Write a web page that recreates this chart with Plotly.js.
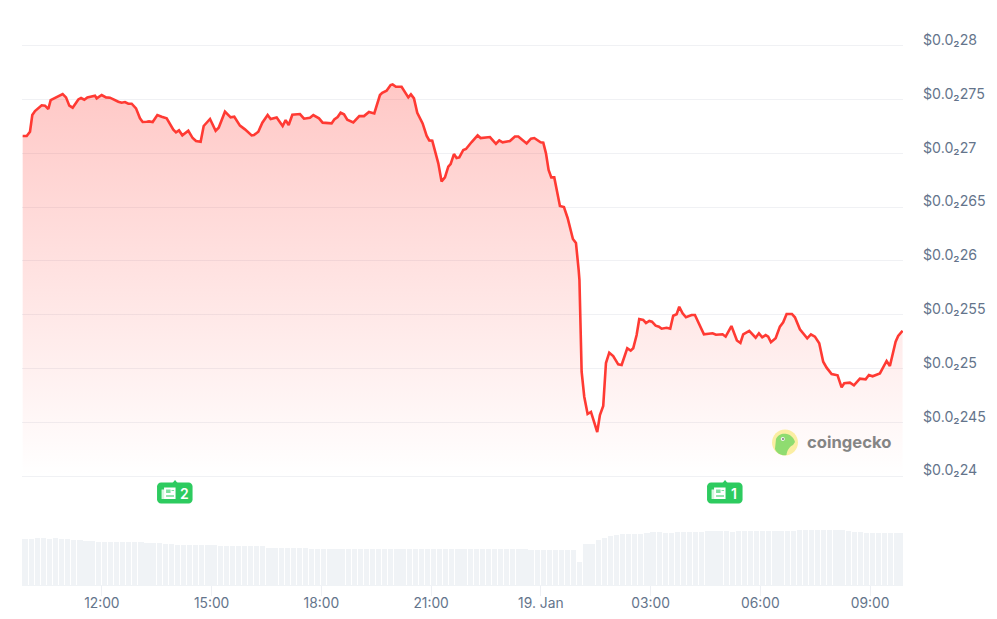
<!DOCTYPE html>
<html>
<head>
<meta charset="utf-8">
<script src="https://cdn.plot.ly/plotly-3.0.1.min.js"></script>
<style>html,body{margin:0;padding:0;background:#fff}#c{width:997px;height:619px}</style>
</head>
<body>
<div id="c"></div>
<script>
// minutes after 18 Jan 09:49
const minutes = [1.1,7.7,13.1,16.9,21.3,32.3,37.7,43.2,47,54.1,62.3,66.7,72.2,77.6,83.1,92.4,96.8,102.2,107.2,119.7,122.5,130.7,137.8,144.3,158,163.5,168.9,174.4,179.9,187,193.5,197.9,204.5,208.3,214.3,222,229.1,237.3,248.2,252.6,257.5,263,272.8,279.9,285.4,293,298,308.4,317.6,322.6,332.9,342.2,348.2,357.5,365.7,376.7,380.5,387.6,394.2,402.9,407.8,417.7,427.5,432.4,437.4,443.4,
455.9,462.5,472.3,477.8,487.1,493.1,507.8,512.2,517.7,522.6,528.1,533.5,543.4,553.2,560.9,569.1,577.8,587.1,590.9,598,604.6,607.9,613.3,622.6,633.6,637.9,642.9,648.3,657.1,663.6,668,672.9,682.8,688.2,693.7,699.2,703,708.5,712.8,717.2,723.8,728.2,737.5,747.3,752.2,767.5,777.4,782.8,788.3,800.3,808.5,814,827.7,834.8,840.2,850.6,855,859.4,863.7,868.1,873,880.2,
882.3,888.9,894.9,903.6,908.6,913,914.3,917.9,922.2,927.7,933.2,943.5,947.9,953.3,957.8,963.2,969.7,977.9,983.5,992.7,998.3,1002.5,1008.1,1012.4,1018.9,1023.4,1028.8,1033.2,1039.3,1044.7,1049.1,1057.3,1063.2,1068.1,1073.7,1078,1083.5,1089,1098.3,1103.7,1109.1,1118.5,1132.7,1138.2,1149.1,1154.1,1163.6,1172.6,1178.3,1182.9,1192.8,1203.3,1208.7,1214.1,1219.7,1223.9,1228.4,1236.1,1243.1,1248.5,1254.1,1262.8,1267.7,1275.9,1287.9,1294,1300.5,1307.6,1314.1,1319.7,1327.9,1337.7,1344.3,1348.6,1357.9,1364.5,1374.3,1383.7,1389.1,1395.1,1407.1,1418.1,1423.5,1432.9,1437.1,1444.3];
// price in millionths of a dollar
const price = [2716,2716,2720,2735.5,2739.2,2744.5,2744.2,2741.1,2749.4,2751.6,2754.4,2755,2751.9,2744.2,2742.3,2750,2751.3,2749.7,2751.9,2753.4,2751,2754.1,2751.9,2751.6,2747.9,2746.9,2747.6,2746,2746,2741.7,2732.4,2729,2729.3,2729.6,2729,2735.5,2733.9,2732.4,2721.9,2719.4,2721.2,2716.6,2720.9,2714.1,2711.3,2710.7,2725.3,2731.8,2720.9,2723.7,2738.6,2733.3,2733.9,2725.6,2722.2,2716.6,2716.9,2720,2728.4,2735.5,2731.8,2733.3,2725.3,2730.8,2726.2,2735.8,
2736.4,2732.1,2733,2735.5,2732.4,2728.4,2727.7,2731.4,2733.6,2737.6,2736.1,2731.1,2728.7,2734.5,2734.5,2738.3,2737,2754.1,2756.2,2758.1,2763.4,2764,2761.8,2761.8,2751.9,2754.7,2751,2737.6,2727.7,2716.3,2711.9,2711.6,2690.6,2673.8,2677.5,2687.5,2689.9,2699.2,2695.5,2696.1,2703,2703.9,2710.4,2716.6,2714.1,2715,2708.8,2711.9,2710.1,2711.3,2715.6,2715.6,2709.1,2713.5,2714.1,2710.1,2709.8,2699.9,2684.4,2677.5,2677.5,2657.1,
2650.9,2650,2639.8,2620.3,2616.6,2591.5,2582.2,2496.9,2473.7,2457.6,2459.5,2440.9,2456.7,2465.1,2505,2514.6,2511.5,2503.8,2503.2,2518.7,2516.5,2518.7,2531,2545.9,2545,2542.2,2544.1,2543.4,2539.7,2538.8,2536.9,2537.8,2536.9,2549,2550.3,2557.3,2551.2,2547.5,2549.6,2549.6,2543.4,2531.7,2532.6,2531.3,2531.7,2529.5,2539.4,2525.9,2523.6,2531.7,2534.8,2528.5,2532.6,2528.9,2531,2529.5,2524.3,2528,2538.8,2542.8,2550.6,2550.6,2547.5,2536.3,2528,2531.7,2529.5,2523.3,2506.2,2500.7,2494.8,2493.6,2482.4,2486.2,2486.7,2484.3,2490.4,2489.9,2493.9,2492.7,2495.4,2506.9,2502.2,2524.8,2530.1,2535];
// one bar every ten minutes
const volume = [46,46,47,47,46,47,46,46,45,45,44,44,43,43,43,43,43,43,43,43,42,42,42,41.5,41,40.5,40,40,40,40,40,40,39,39,39,39,39,39,39,39,37.5,37.5,37.5,37,37,37,37,36.5,36.5,36.5,36.5,36.5,36.5,36,36,36,36,36,36,36,36,36,36,36,36,36,36,36,36,36,36,36,36,36,36,36,36,36,36,36,36,36,36,35.5,35.5,35.5,35.5,35.5,35.5,35.5,35,23,41,41,45,47,49,50,50.7,50.7,50.7,51.5,52,53,53,52.5,52,52.7,52.7,52.7,52.7,52.7,54,54,54,54,53.3,54,54,54,54,54,54,54,54,54,54.5,55,55,55,55,55,55,55,55,54,53.5,53.3,51.7,51.7,51.7,51.7,51.7,51.7,52];
const priceTicks = [2400,2450,2500,2550,2600,2650,2700,2750,2800];
const priceLabels = ['$0.0₂24','$0.0₂245','$0.0₂25','$0.0₂255','$0.0₂26','$0.0₂265','$0.0₂27','$0.0₂275','$0.0₂28'];
const timeTicks = ['2025-01-18 12:00','2025-01-18 15:00','2025-01-18 18:00','2025-01-18 21:00','2025-01-19 00:00','2025-01-19 03:00','2025-01-19 06:00','2025-01-19 09:00'];
const timeLabels = ['12:00','15:00','18:00','21:00','19. Jan','03:00','06:00','09:00'];
const newsMinutes = [251,1153];
const newsCounts = ['2','1'];

const startMs = Date.UTC(2025,0,18,9,49);
const MIN = 60000;
const toMs = m => startMs + m*MIN;
const W = 881, H = 585, L = 22;
const px = x => (x-L)/W;
const py = y => (H-y)/H;
const pt = (x,y) => px(x).toFixed(5)+','+py(y).toFixed(5);
const shapePath = (d,fill,extra) => Object.assign({type:'path',xref:'paper',yref:'paper',layer:'above',path:d,fillcolor:fill,line:{width:0}},extra||{});
const roundRect = (x0,y0,x1,y1,r) => {
  const k = r*0.45;
  return 'M'+pt(x0+r,y0)+' L'+pt(x1-r,y0)+' C'+pt(x1-k,y0)+' '+pt(x1,y0+k)+' '+pt(x1,y0+r)+
    ' L'+pt(x1,y1-r)+' C'+pt(x1,y1-k)+' '+pt(x1-k,y1)+' '+pt(x1-r,y1)+
    ' L'+pt(x0+r,y1)+' C'+pt(x0+k,y1)+' '+pt(x0,y1-k)+' '+pt(x0,y1-r)+
    ' L'+pt(x0,y0+r)+' C'+pt(x0,y0+k)+' '+pt(x0+k,y0)+' '+pt(x0+r,y0)+' Z';
};
const rect = (x0,y0,x1,y1) => 'M'+pt(x0,y0)+' L'+pt(x1,y0)+' L'+pt(x1,y1)+' L'+pt(x0,y1)+' Z';
const circle = (cx,cy,r) => {
  const k=r*0.5523;
  return 'M'+pt(cx-r,cy)+' C'+pt(cx-r,cy-k)+' '+pt(cx-k,cy-r)+' '+pt(cx,cy-r)+' C'+pt(cx+k,cy-r)+' '+pt(cx+r,cy-k)+' '+pt(cx+r,cy)+
  ' C'+pt(cx+r,cy+k)+' '+pt(cx+k,cy+r)+' '+pt(cx,cy+r)+' C'+pt(cx-k,cy+r)+' '+pt(cx-r,cy+k)+' '+pt(cx-r,cy)+' Z';
};

const GREEN = '#2dcb5f';
const shapes = [];
const annotations = [];
const FONT = 'Inter, "Noto Sans", sans-serif';

newsMinutes.forEach((m,i)=>{
  const cx = L + m/1.64;
  const w0 = cx-18, w1 = cx+17.5;
  shapes.push(shapePath(roundRect(w0,482.5,w1,503.5,4),GREEN));
  shapes.push(shapePath('M'+pt(cx-2.5,483)+' L'+pt(cx,480)+' L'+pt(cx+2.5,483)+' Z',GREEN));
  const ix = w0+4.5;
  shapes.push(shapePath(rect(ix,489.5,ix+3,499),'#d8f5e2'));
  shapes.push(shapePath(rect(ix+2.5,487.5,ix+14,499),'#ffffff'));
  shapes.push(shapePath(rect(ix+4.5,489.5,ix+9,493),'#7fe0a0'));
  shapes.push(shapePath(rect(ix+10,490,ix+12.5,491),'#7fe0a0'));
  shapes.push(shapePath(rect(ix+4.5,495.5,ix+12.5,496.5),GREEN));
  annotations.push({xref:'paper',yref:'paper',x:px(w0+27.3),y:py(493),xanchor:'center',yanchor:'middle',showarrow:false,text:newsCounts[i],font:{family:FONT,size:14,color:'#ffffff',weight:600}});
});

// coingecko watermark
shapes.push(shapePath(circle(785,442.5,13),'#fbeea3'));
shapes.push(shapePath('M'+pt(776,439)+' C'+pt(778,434)+' '+pt(783,433)+' '+pt(787,434)+' C'+pt(791,435)+' '+pt(794,438)+' '+pt(795,442)+' L'+pt(793,445)+' C'+pt(789,447)+' '+pt(787,451)+' '+pt(786.5,455)+' C'+pt(782,456)+' '+pt(777,454)+' '+pt(775,449)+' Z','#8fdc70'));
shapes.push(shapePath(circle(782.8,439,2),'#f3f3f3'));
shapes.push(shapePath(circle(783,439,0.9),'#666666'));
annotations.push({xref:'paper',yref:'paper',x:px(804.5),y:py(442),xanchor:'left',yanchor:'middle',showarrow:false,text:'coingecko',font:{family:FONT,size:16.6,color:'#858585',weight:700}});

const times = minutes.map(toMs);
const data = [
  {type:'scatter',mode:'lines',x:times,y:minutes.map(()=>priceTicks[0]),xaxis:'x',yaxis:'y',line:{width:0},hoverinfo:'skip',showlegend:false},
  {type:'scatter',mode:'lines',x:times,y:price,xaxis:'x',yaxis:'y',line:{color:'#ff3a33',width:2.6,shape:'linear'},fill:'tonexty',
   fillcolor:'rgba(255,58,51,0.14)',
   fillgradient:{type:'vertical',colorscale:[[0,'rgba(255,58,51,0)'],[1,'rgba(255,58,51,0.28)']]},showlegend:false},
  {type:'bar',x:volume.map((_,i)=>toMs(i*10+5)),y:volume,width:volume.map(()=>8.6*MIN),xaxis:'x',yaxis:'y2',marker:{color:'#f0f3f6',line:{width:0}},showlegend:false},
  {type:'scatter',mode:'lines',x:[times[0]],y:[priceTicks[0]],xaxis:'x',yaxis:'y3',opacity:0,line:{width:0},hoverinfo:'skip',showlegend:false}
];
const labelShift = 5.2; // price units: puts labels a few pixels above their gridlines
const layout = {
  width:997,height:619,paper_bgcolor:'#fff',plot_bgcolor:'rgba(0,0,0,0)',
  margin:{l:L,r:997-L-W,t:0,b:619-H,pad:0},
  showlegend:false,bargap:0,
  font:{family:FONT,size:13,color:'#64748b'},
  xaxis:{type:'date',anchor:'y2',range:[startMs,toMs(1445)],tickmode:'array',tickvals:timeTicks,ticktext:timeLabels,ticks:'outside',ticklen:10,tickwidth:1,tickcolor:'#eef0f4',ticklabelstandoff:-5,showgrid:false,zeroline:false,showline:true,linecolor:'#f0f3f6',linewidth:1,tickfont:{family:FONT,size:13.8,color:'#64748b'}},
  yaxis:{domain:[105/585,1],range:[2396.28,2842.4],tickmode:'array',tickvals:priceTicks,showticklabels:false,ticks:'',showgrid:true,gridcolor:'rgba(226,229,233,0.52)',gridwidth:1,zeroline:false,showline:false,anchor:'x'},
  yaxis2:{domain:[0,55/585],range:[0,55],showticklabels:false,ticks:'',showgrid:false,zeroline:false,showline:false,anchor:'x'},
  yaxis3:{domain:[105/585,1],overlaying:'y',side:'right',anchor:'x',range:[2396.28-labelShift,2842.4-labelShift],tickmode:'array',tickvals:priceTicks,ticktext:priceLabels,ticks:'',ticklabelstandoff:19,showgrid:false,zeroline:false,showline:false,tickfont:{family:FONT,size:14.2,color:'#64748b'}},
  shapes,annotations
};
Plotly.newPlot('c',data,layout,{displayModeBar:false,staticPlot:true});
</script>
</body>
</html>
